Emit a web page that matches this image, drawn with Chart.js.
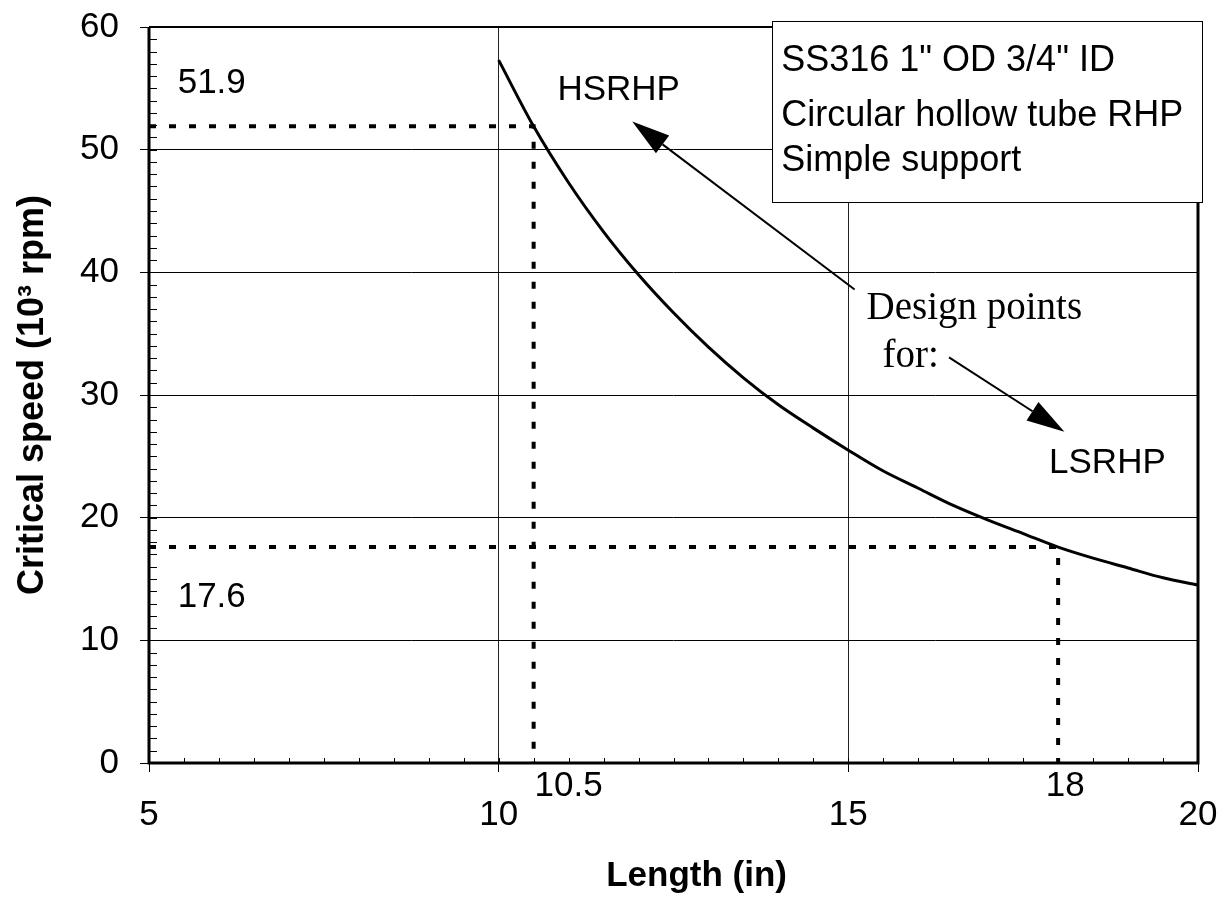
<!DOCTYPE html>
<html><head><meta charset="utf-8">
<script src="https://cdn.jsdelivr.net/npm/chart.js@4/dist/chart.umd.min.js"></script>
<style>html,body{margin:0;padding:0;background:#fff;}canvas{display:block;}</style>
</head><body>
<canvas id="c" width="1225" height="903"></canvas>
<script>
// ---- data ----
const lengths = [10, 10.5, 11, 11.5, 12, 12.5, 13, 13.5, 14, 14.5, 15, 15.5, 16, 16.5, 17, 17.5, 18, 18.5, 19, 19.5, 20];
const speeds  = [57.3, 51.9, 47.3, 43.3, 39.8, 36.7, 33.9, 31.4, 29.2, 27.3, 25.5, 23.8, 22.4, 21.0, 19.8, 18.7, 17.6, 16.7, 15.9, 15.1, 14.5];
const designLengths = [10.5, 18];
const designSpeeds  = [51.9, 17.6];
const designNames   = ['HSRHP', 'LSRHP'];
const xTicks = [5, 10, 15, 20];
const yTicks = [0, 10, 20, 30, 40, 50, 60];
const xTitle = 'Length (in)';
const yTitle = 'Critical speed (10\u00B3 rpm)';
const infoLines = ['SS316 1" OD 3/4" ID', 'Circular hollow tube RHP', 'Simple support'];
const noteLines = ['Design points', ' for:'];

// ---- annotation placement (data units) ----
const place = {
  speedLabelX: 5.41,
  speedLabelDy: [3.5, -4.1],
  lengthLabelX: [11.0, 18.1], lengthLabelY: -1.9,
  nameAt: [[10.84, 54.8], [17.87, 24.4]],
  noteAt: [[15.26, 36.16], [15.35, 32.3]],
  box: {x0: 13.91, y0: 60.45, x1: 20.06, y1: 45.7},
  infoAt: [[14.04, 57.2], [14.04, 52.7], [14.04, 49.1]],
  arrows: [[[15.09, 38.6], [11.91, 52.3]], [[16.44, 33.06], [18.09, 27.0]]],
  xTitleAt: [12.83, -9.2]
};

const SANS = '"Liberation Sans", Arial, Helvetica, sans-serif';
const SERIF = '"Liberation Serif", "Times New Roman", serif';

const decor = {
  id: 'decor',
  afterDraw(chart) {
    const {ctx, chartArea: a, scales: {x, y}} = chart;
    const X = v => x.getPixelForValue(v), Y = v => y.getPixelForValue(v);
    ctx.save();
    ctx.strokeStyle = '#000'; ctx.fillStyle = '#000';
    // minor ticks
    ctx.lineWidth = 1;
    ctx.beginPath();
    for (let v = y.min; v <= y.max; v += 1) {
      const py = Math.round(Y(v)) + 0.5;
      ctx.moveTo(a.left, py); ctx.lineTo(a.left + 8, py);
    }
    for (let v = x.min; v <= x.max + 1e-9; v += 0.5) {
      const px = Math.round(X(v)) + 0.5;
      ctx.moveTo(px, a.bottom); ctx.lineTo(px, a.bottom - 5);
    }
    ctx.stroke();
    // frame
    ctx.lineWidth = 3;
    ctx.beginPath();
    ctx.moveTo(a.left, a.top); ctx.lineTo(a.left, a.bottom); ctx.lineTo(a.right, a.bottom); ctx.lineTo(a.right, a.top);
    ctx.stroke();
    ctx.lineWidth = 2;
    ctx.beginPath(); ctx.moveTo(a.left, a.top); ctx.lineTo(a.right, a.top); ctx.stroke();

    // info box
    const b = place.box;
    const bx0 = Math.round(X(b.x0)) + 0.5, by0 = Math.round(Y(b.y0)) + 0.5;
    const bx1 = Math.round(X(b.x1)) + 0.5, by1 = Math.round(Y(b.y1)) + 0.5;
    ctx.fillStyle = '#fff';
    ctx.fillRect(bx0, by0, bx1 - bx0, by1 - by0);
    ctx.lineWidth = 1; ctx.strokeStyle = '#000';
    ctx.strokeRect(bx0, by0, bx1 - bx0, by1 - by0);
    ctx.fillStyle = '#000';
    ctx.font = '36px ' + SANS; ctx.textAlign = 'left'; ctx.textBaseline = 'middle';
    infoLines.forEach((t, i) => ctx.fillText(t, X(place.infoAt[i][0]), Y(place.infoAt[i][1])));

    // design speed labels
    ctx.font = '35px ' + SANS;
    designSpeeds.forEach((s, i) => ctx.fillText(String(s), X(place.speedLabelX), Y(s + place.speedLabelDy[i])));
    // design length labels
    ctx.textAlign = 'center';
    designLengths.forEach((l, i) => ctx.fillText(String(l), X(place.lengthLabelX[i]), Y(place.lengthLabelY)));
    // x title
    ctx.font = 'bold 35px ' + SANS;
    ctx.fillText(xTitle, X(place.xTitleAt[0]), Y(place.xTitleAt[1]));
    // names
    ctx.textAlign = 'left';
    ctx.font = '35px ' + SANS;
    designNames.forEach((n, i) => ctx.fillText(n, X(place.nameAt[i][0]), Y(place.nameAt[i][1])));
    // note
    ctx.font = '39px ' + SERIF; ctx.textBaseline = 'alphabetic';
    noteLines.forEach((t, i) => ctx.fillText(t, X(place.noteAt[i][0]), Y(place.noteAt[i][1])));

    // arrows
    place.arrows.forEach(([s, e]) => {
      const sx = X(s[0]), sy = Y(s[1]), ex = X(e[0]), ey = Y(e[1]);
      const ang = Math.atan2(ey - sy, ex - sx), L = 38, W = 11;
      const bxm = ex - L * Math.cos(ang), bym = ey - L * Math.sin(ang);
      ctx.lineWidth = 2;
      ctx.beginPath(); ctx.moveTo(sx, sy); ctx.lineTo(bxm, bym); ctx.stroke();
      ctx.beginPath();
      ctx.moveTo(ex, ey);
      ctx.lineTo(bxm + W * Math.sin(ang), bym - W * Math.cos(ang));
      ctx.lineTo(bxm - W * Math.sin(ang), bym + W * Math.cos(ang));
      ctx.closePath(); ctx.fill();
    });
    ctx.restore();
  }
};

const curve = lengths.map((l, i) => ({x: l, y: speeds[i]}));
const guides = designLengths.map((l, i) => ({
  data: [{x: xTicks[0], y: designSpeeds[i]}, {x: l, y: designSpeeds[i]}, {x: l, y: yTicks[0]}],
  borderColor: '#000', borderWidth: 4, borderDash: [7, 13], pointRadius: 0, showLine: true, tension: 0, fill: false
}));

new Chart(document.getElementById('c'), {
  type: 'scatter',
  data: {
    datasets: [
      ...guides,
      {data: curve, borderColor: '#000', borderWidth: 3, pointRadius: 0, showLine: true,
       cubicInterpolationMode: 'monotone', fill: false}
    ]
  },
  options: {
    responsive: false, animation: false, devicePixelRatio: 1,
    layout: {padding: {top: 27, right: 27, left: 0, bottom: 0}},
    plugins: {legend: {display: false}, tooltip: {enabled: false}},
    scales: {
      x: {
        type: 'linear', min: xTicks[0], max: xTicks[xTicks.length - 1],
        afterBuildTicks(s) { s.ticks = xTicks.map(v => ({value: v})); },
        ticks: {color: '#000', font: {family: SANS, size: 35}, padding: 22, maxRotation: 0, autoSkip: false},
        grid: {
          color: c => (c.tick && (c.tick.value === 10 || c.tick.value === 15)) ? '#222' : 'rgba(0,0,0,0)',
          tickColor: '#000', tickLength: 9, lineWidth: 1
        },
        border: {display: false},
        title: {display: false},
        afterFit(s) { s.height = 140; s.paddingLeft = 0; s.paddingRight = 0; }
      },
      y: {
        type: 'linear', min: yTicks[0], max: yTicks[yTicks.length - 1],
        afterBuildTicks(s) { s.ticks = yTicks.map(v => ({value: v})); },
        ticks: {color: '#000', font: {family: SANS, size: 35}, padding: 21},
        grid: {color: '#000', tickColor: '#000', tickLength: 9, lineWidth: 1},
        border: {display: false},
        title: {display: true, text: yTitle, color: '#000', font: {family: SANS, size: 36, weight: 'bold'}, padding: {top: 11, bottom: 0}},
        afterFit(s) { s.width = 149; s.paddingTop = 0; s.paddingBottom = 0; }
      }
    }
  },
  plugins: [decor]
});
</script>
</body></html>
